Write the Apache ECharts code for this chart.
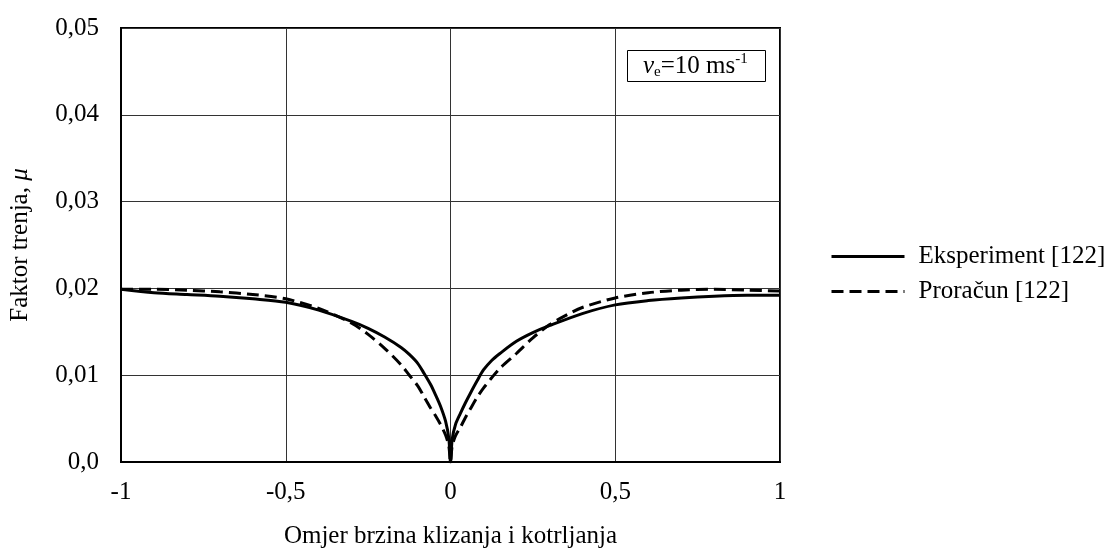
<!DOCTYPE html>
<html><head><meta charset="utf-8">
<script src="https://cdn.jsdelivr.net/npm/echarts@6/dist/echarts.min.js"></script>
<style>html,body{margin:0;padding:0;background:#fff}#c{width:1117px;height:556px}</style>
</head><body><div id="c"></div>
<script>
const expX = [-1, -0.9, -0.8, -0.7, -0.6, -0.5, -0.4, -0.3, -0.25, -0.2, -0.15, -0.125, -0.1, -0.08, -0.06, -0.045, -0.03, -0.015, -0.005, 0, 0.005, 0.015, 0.03, 0.045, 0.06, 0.08, 0.1, 0.125, 0.15, 0.2, 0.25, 0.3, 0.4, 0.5, 0.6, 0.7, 0.8, 0.9, 1];
const expY = [0.0199, 0.0195, 0.0193, 0.0191, 0.0188, 0.0184, 0.0175, 0.0162, 0.0154, 0.0144, 0.0132, 0.0124, 0.0114, 0.0102, 0.0089, 0.0077, 0.0064, 0.0047, 0.0027, 0, 0.0026, 0.0043, 0.0056, 0.0068, 0.0079, 0.0093, 0.0106, 0.0117, 0.0125, 0.0139, 0.0149, 0.0157, 0.0171, 0.0181, 0.0186, 0.0189, 0.0191, 0.0192, 0.0192];
const calcX = [-1, -0.9, -0.8, -0.7, -0.6, -0.5, -0.4, -0.3, -0.25, -0.2, -0.15, -0.125, -0.1, -0.08, -0.06, -0.045, -0.03, -0.015, -0.005, 0, 0.005, 0.015, 0.03, 0.045, 0.06, 0.08, 0.1, 0.125, 0.15, 0.2, 0.25, 0.3, 0.35, 0.4, 0.5, 0.6, 0.7, 0.8, 0.9, 1];
const calcY = [0.0199, 0.0199, 0.0198, 0.0196, 0.0193, 0.0188, 0.0177, 0.0160, 0.0147, 0.0131, 0.0112, 0.0100, 0.0088, 0.0075, 0.0062, 0.0053, 0.0043, 0.0031, 0.0018, 0, 0.0018, 0.0030, 0.0040, 0.0051, 0.0061, 0.0074, 0.0085, 0.0097, 0.0108, 0.0125, 0.0143, 0.0158, 0.0169, 0.0178, 0.0189, 0.0195, 0.0198, 0.0199, 0.0198, 0.0197];
const seriesNames = ['Eksperiment [122]', 'Proračun [122]'];
const annotation = ['v', 'e', '=10 ms', '-1'];

const font = '"Liberation Serif", "Times New Roman", serif';
const FS = 25;
const chart = echarts.init(document.getElementById('c'));
const pairs = (xs, ys) => xs.map((x, i) => [x, ys[i]]);
chart.setOption({
  animation: false,
  backgroundColor: '#fff',
  textStyle: { fontFamily: font, color: '#000' },
  grid: { left: 119, right: 337, top: 28, bottom: 94, show: true, borderColor: '#000', borderWidth: 2 },
  title: {
    left: 627, top: 50,
    text: '{v|' + annotation[0] + '}{s|' + annotation[1] + '}{t|' + annotation[2] + '}{p|' + annotation[3] + '}',
    borderColor: '#000', borderWidth: 1, padding: [2, 18, 2, 16], backgroundColor: '#fff',
    textStyle: {
      fontWeight: 'normal',
      rich: {
        v: { fontFamily: font, fontSize: FS, fontWeight: 'normal', fontStyle: 'italic', color: '#000', lineHeight: 28, verticalAlign: 'middle' },
        s: { fontFamily: font, fontSize: 15, fontWeight: 'normal', color: '#000', lineHeight: 28, verticalAlign: 'bottom' },
        t: { fontFamily: font, fontSize: FS, fontWeight: 'normal', color: '#000', lineHeight: 28, verticalAlign: 'middle' },
        p: { fontFamily: font, fontSize: 15, fontWeight: 'normal', color: '#000', lineHeight: 28, verticalAlign: 'top' }
      }
    }
  },
  legend: {
    orient: 'vertical', left: 825, top: 239, itemWidth: 73, itemHeight: 14, itemGap: 10,
    itemStyle: { opacity: 0 },
    lineStyle: { width: 3 },
    textStyle: { fontFamily: font, fontSize: FS, color: '#000', padding: [0, 0, 0, 9] },
    data: seriesNames
  },
  xAxis: {
    type: 'value', min: -1, max: 1, interval: 0.5,
    name: 'Omjer brzina klizanja i kotrljanja', nameLocation: 'middle', nameGap: 62,
    nameTextStyle: { fontFamily: font, fontSize: FS, color: '#000' },
    axisLine: { show: true, onZero: false, lineStyle: { color: '#000', width: 2 } },
    axisTick: { show: false },
    axisLabel: { fontFamily: font, fontSize: FS, color: '#000', margin: 18,
      formatter: v => String(v).replace('.', ',') },
    splitLine: { show: true, lineStyle: { color: '#333', width: 1 } }
  },
  yAxis: {
    type: 'value', min: 0, max: 0.05, interval: 0.01,
    name: '{a|Faktor trenja, }{b|μ}', nameLocation: 'middle', nameGap: 88,
    nameTextStyle: { rich: {
      a: { fontFamily: font, fontSize: FS, color: '#000' },
      b: { fontFamily: font, fontSize: FS, color: '#000', fontStyle: 'italic' } } },
    axisLine: { show: true, onZero: false, lineStyle: { color: '#000', width: 2 } },
    axisTick: { show: false },
    axisLabel: { fontFamily: font, fontSize: FS, color: '#000', margin: 22,
      formatter: v => v === 0 ? '0,0' : v.toFixed(2).replace('.', ',') },
    splitLine: { show: true, lineStyle: { color: '#333', width: 1 } }
  },
  series: [
    { name: seriesNames[0], type: 'line', data: pairs(expX, expY), symbol: 'none', smooth: 0.3,
      lineStyle: { color: '#000', width: 3, type: 'solid' }, itemStyle: { color: '#000' } },
    { name: seriesNames[1], type: 'line', data: pairs(calcX, calcY), symbol: 'none', smooth: 0.3,
      lineStyle: { color: '#000', width: 3, type: [12, 6] }, itemStyle: { color: '#000' } }
  ]
});
</script></body></html>
